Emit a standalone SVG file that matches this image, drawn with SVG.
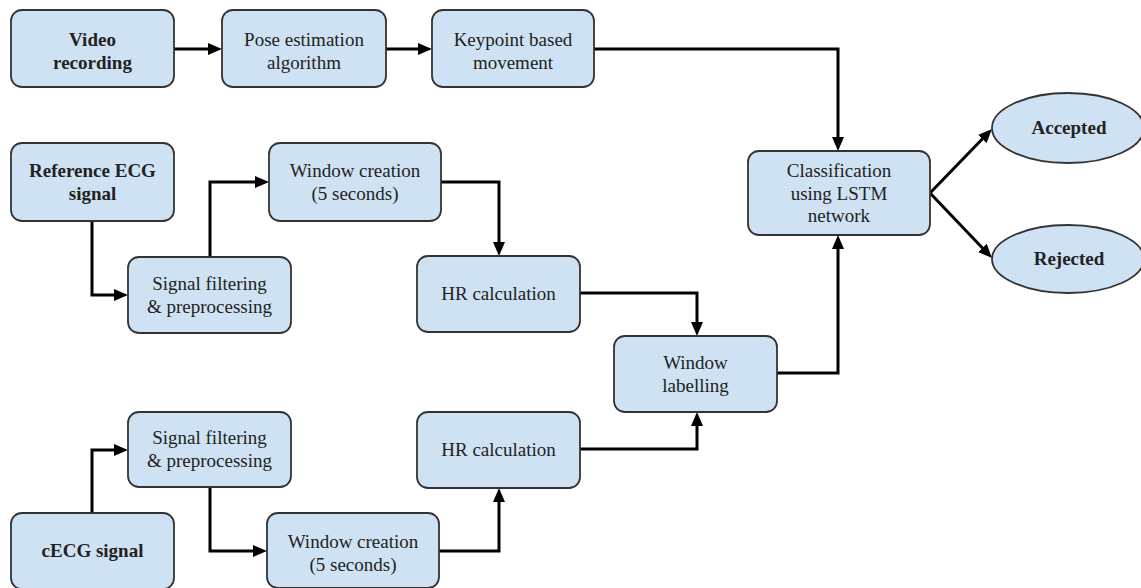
<svg xmlns="http://www.w3.org/2000/svg" width="1141" height="588" viewBox="0 0 1141 588">
<style>
.box{fill:#cfe2f3;stroke:#333;stroke-width:1.8}
.t{font-family:"Liberation Serif","Times New Roman",serif;font-size:19px;fill:#222;text-anchor:middle}
.b{font-weight:bold}
.c{fill:none;stroke:#000;stroke-width:3}
</style>
<defs>
<marker id="ah" markerUnits="userSpaceOnUse" markerWidth="14" markerHeight="12" viewBox="0 0 14 12" refX="6" refY="6" orient="auto">
<path d="M0,0 L14,6 L0,12 z" fill="#000"/>
</marker>
</defs>
<rect width="1141" height="588" fill="#fff"/>
<g id="connectors">
<path class="c" marker-end="url(#ah)" d="M174,49 H214"/>
<path class="c" marker-end="url(#ah)" d="M386,49 H424"/>
<path class="c" marker-end="url(#ah)" d="M594,49 H838 V143"/>
<path class="c" marker-end="url(#ah)" d="M92,221 V295 H120"/>
<path class="c" marker-end="url(#ah)" d="M210,257 V182 H261"/>
<path class="c" marker-end="url(#ah)" d="M441,182 H499 V248"/>
<path class="c" marker-end="url(#ah)" d="M580,293 H697 V328"/>
<path class="c" marker-end="url(#ah)" d="M777,373 H838 V243"/>
<path class="c" marker-end="url(#ah)" d="M930,193 L986.4,134.8"/>
<path class="c" marker-end="url(#ah)" d="M930,193 L986.5,252.2"/>
<path class="c" marker-end="url(#ah)" d="M92,513 V450 H120"/>
<path class="c" marker-end="url(#ah)" d="M210,487 V551 H259"/>
<path class="c" marker-end="url(#ah)" d="M439,551 H499 V496"/>
<path class="c" marker-end="url(#ah)" d="M580,449 H697 V420"/>
</g>
<g id="video">
<rect class="box" x="11" y="10" width="163" height="77" rx="11"/>
<text class="t b" x="92.5" y="46">Video</text>
<text class="t b" x="92.5" y="69">recording</text>
</g>
<g id="pose">
<rect class="box" x="222" y="10" width="164" height="77" rx="11"/>
<text class="t" x="304" y="46">Pose estimation</text>
<text class="t" x="304" y="69">algorithm</text>
</g>
<g id="keypoint">
<rect class="box" x="432" y="10" width="162" height="77" rx="11"/>
<text class="t" x="513" y="46">Keypoint based</text>
<text class="t" x="513" y="69">movement</text>
</g>
<g id="refecg">
<rect class="box" x="11" y="143" width="163" height="78" rx="11"/>
<text class="t b" x="92.5" y="176.5">Reference ECG</text>
<text class="t b" x="92.5" y="199.5">signal</text>
</g>
<g id="window1">
<rect class="box" x="269" y="143" width="172" height="78" rx="11"/>
<text class="t" x="355" y="176.5">Window creation</text>
<text class="t" x="355" y="199.5">(5 seconds)</text>
</g>
<g id="filter1">
<rect class="box" x="128" y="257" width="163" height="76" rx="11"/>
<text class="t" x="209.5" y="289.5">Signal filtering</text>
<text class="t" x="209.5" y="312.5">&amp; preprocessing</text>
</g>
<g id="hr1">
<rect class="box" x="417" y="256" width="163" height="76" rx="11"/>
<text class="t" x="498.5" y="300">HR calculation</text>
</g>
<g id="labelling">
<rect class="box" x="614" y="336" width="163" height="76" rx="11"/>
<text class="t" x="695.5" y="368.5">Window</text>
<text class="t" x="695.5" y="391.5">labelling</text>
</g>
<g id="classification">
<rect class="box" x="748" y="151" width="182" height="84" rx="11"/>
<text class="t" x="839" y="177">Classification</text>
<text class="t" x="839" y="199.5">using LSTM</text>
<text class="t" x="839" y="222">network</text>
</g>
<g id="accepted">
<ellipse class="box" cx="1068" cy="128" rx="76" ry="35"/>
<text class="t b" x="1069" y="134">Accepted</text>
</g>
<g id="rejected">
<ellipse class="box" cx="1068" cy="259" rx="76" ry="34"/>
<text class="t b" x="1069" y="265">Rejected</text>
</g>
<g id="filter2">
<rect class="box" x="128" y="412" width="163" height="75" rx="11"/>
<text class="t" x="209.5" y="444">Signal filtering</text>
<text class="t" x="209.5" y="467">&amp; preprocessing</text>
</g>
<g id="hr2">
<rect class="box" x="417" y="412" width="163" height="76" rx="11"/>
<text class="t" x="498.5" y="456">HR calculation</text>
</g>
<g id="cecg">
<rect class="box" x="11" y="513" width="163" height="76" rx="11"/>
<text class="t b" x="92.5" y="557">cECG signal</text>
</g>
<g id="window2">
<rect class="box" x="267" y="513" width="172" height="75" rx="11"/>
<text class="t" x="353" y="548">Window creation</text>
<text class="t" x="353" y="571">(5 seconds)</text>
</g>
</svg>
